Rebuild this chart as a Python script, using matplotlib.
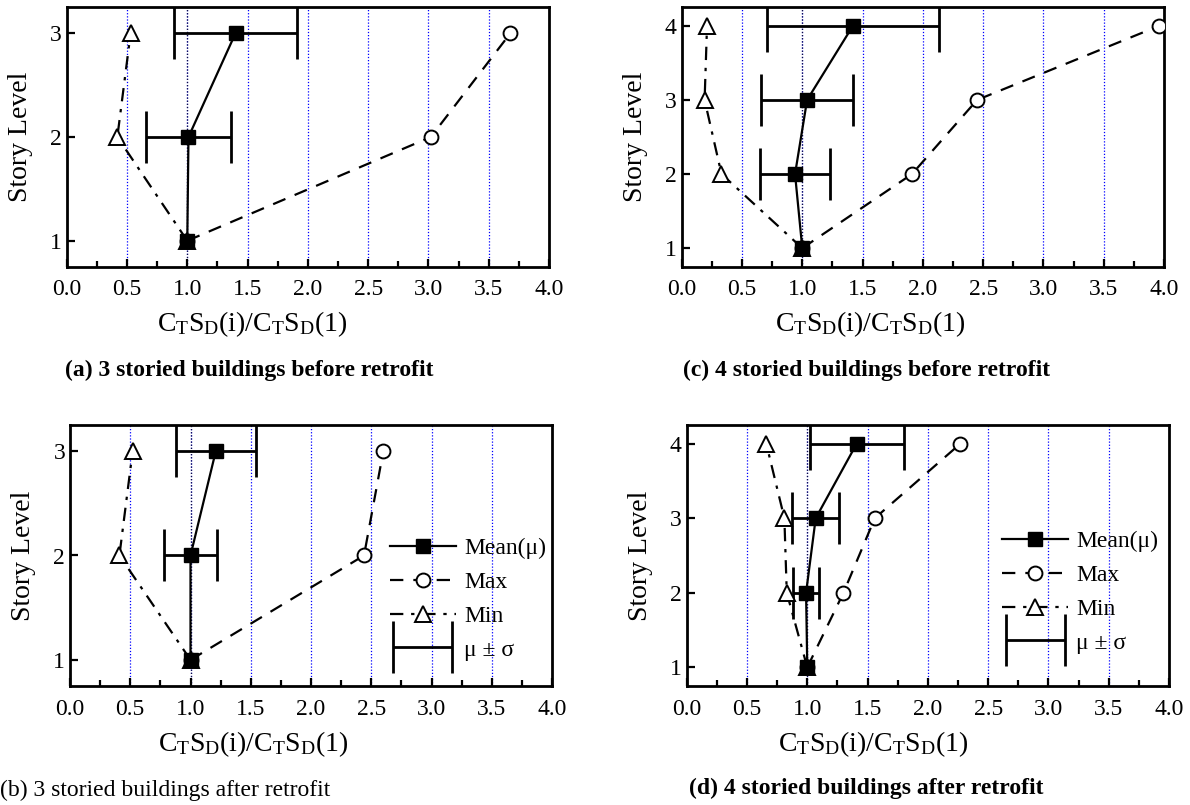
import matplotlib
matplotlib.use("Agg")
import matplotlib.pyplot as plt
import numpy as np
from matplotlib.ticker import MultipleLocator, FormatStrFormatter
from matplotlib.legend_handler import HandlerErrorbar

plt.rcParams['font.family'] = ['Liberation Serif', 'DejaVu Serif']
plt.rcParams['mathtext.fontset'] = 'custom'
plt.rcParams['mathtext.rm'] = 'Liberation Serif'
plt.rcParams['mathtext.it'] = 'Liberation Serif:italic'

# ---------------- data ----------------
levels3 = [1, 2, 3]
levels4 = [1, 2, 3, 4]

# (a) 3 storied before retrofit
a_mean = [1.0, 1.01, 1.40]
a_sigma = [0.0, 0.35, 0.51]
a_max = [1.0, 3.02, 3.68]
a_min = [1.0, 0.42, 0.53]

# (c) 4 storied before retrofit
c_mean = [1.0, 0.94, 1.04, 1.42]
c_sigma = [0.0, 0.29, 0.38, 0.71]
c_max = [1.0, 1.91, 2.45, 3.96]
c_min = [1.0, 0.33, 0.19, 0.21]

# (b) 3 storied after retrofit
b_mean = [1.0, 1.0, 1.21]
b_sigma = [0.0, 0.22, 0.33]
b_max = [1.0, 2.44, 2.60]
b_min = [1.0, 0.41, 0.52]

# (d) 4 storied after retrofit
d_mean = [1.0, 0.99, 1.07, 1.41]
d_sigma = [0.0, 0.11, 0.195, 0.39]
d_max = [1.0, 1.30, 1.56, 2.27]
d_min = [1.0, 0.83, 0.81, 0.66]

grid_x = [0.5, 1.0, 1.5, 2.0, 2.5, 3.0, 3.5]
xlabel = r'C$_\mathrm{T}$S$_\mathrm{D}$(i)/C$_\mathrm{T}$S$_\mathrm{D}$(1)'
titles = ['(a) 3 storied buildings before retrofit',
          '(c) 4 storied buildings before retrofit',
          '(b) 3 storied buildings after retrofit',
          '(d) 4 storied buildings after retrofit']

W, H = 1190, 805
fig = plt.figure(figsize=(W / 100, H / 100), dpi=100)

def px_axes(l, r, t, b):
    return fig.add_axes([l / W, 1 - b / H, (r - l) / W, (b - t) / H])

panels = [
    dict(box=(66.7, 549, 7.3, 266.7), lv=levels3, mean=a_mean, sig=a_sigma, mx=a_max, mn=a_min, legend=None, xlab=0.384),
    dict(box=(681.7, 1164, 7.3, 266.7), lv=levels4, mean=c_mean, sig=c_sigma, mx=c_max, mn=c_min, legend=None, xlab=0.39),
    dict(box=(70, 552, 425, 686), lv=levels3, mean=b_mean, sig=b_sigma, mx=b_max, mn=b_min, legend=(0.663, 0.568), xlab=0.38),
    dict(box=(686.7, 1169, 425, 686), lv=levels4, mean=d_mean, sig=d_sigma, mx=d_max, mn=d_min, legend=(0.654, 0.595), xlab=0.386),
]

lw = 1.6
for p in panels:
    ax = px_axes(*p['box'])
    lv = p['lv']
    nlev = len(lv)
    for gx in grid_x:
        ax.axvline(gx, color='blue', linestyle=(0, (1, 1.5)), linewidth=0.9, zorder=0)
    ax.axvline(1.0, color='#101040', linestyle=(0, (1, 1.5)), linewidth=0.9, zorder=0.5)

    hmean, = ax.plot(p['mean'], lv, '-', color='black', lw=lw, marker='s', ms=10,
                     mfc='black', mec='black', zorder=5, label='Mean(\u03bc)')
    hmax, = ax.plot(p['mx'], lv, color='black', lw=lw, linestyle=(0, (6, 4.5)), marker='o', ms=10,
                    mfc='white', mec='black', mew=1.4, zorder=4, label='Max')
    hmin, = ax.plot(p['mn'], lv, color='black', lw=lw, linestyle=(0, (6, 3.5, 1.5, 3.5)), marker='^', ms=11,
                    mfc='white', mec='black', mew=1.4, zorder=4, label='Min')
    herr = ax.errorbar(p['mean'][1:], lv[1:], xerr=p['sig'][1:], fmt='none', ecolor='black',
                       elinewidth=2.0, capsize=19, capthick=2.0, zorder=3, label='\u03bc \u00b1 \u03c3')

    ax.set_xlim(0, 4.0)
    ax.set_ylim(0.75, nlev + 0.25)
    ax.xaxis.set_major_locator(MultipleLocator(0.5))
    ax.xaxis.set_minor_locator(MultipleLocator(0.25))
    ax.xaxis.set_major_formatter(FormatStrFormatter('%.1f'))
    ax.set_yticks(lv)
    ax.tick_params(axis='both', which='major', direction='in', length=6, width=1.6, labelsize=17,
                   top=False, right=False)
    ax.tick_params(axis='x', which='minor', direction='in', length=4, width=1.6, top=False)
    ax.tick_params(axis='x', pad=9)
    for s in ax.spines.values():
        s.set_linewidth(2.0)
    ax.set_ylabel('Story Level', fontsize=20)
    ax.yaxis.set_label_coords(-0.07, 0.5)
    ax.set_xlabel(xlabel, fontsize=20)
    ax.xaxis.set_label_coords(p['xlab'], -0.165)

    if p['legend'] is not None:
        ax.legend(handles=[hmean, hmax, hmin, herr], loc='upper left', bbox_to_anchor=p['legend'],
                  frameon=False, fontsize=17, handlelength=2.8, handletextpad=0.35,
                  labelspacing=0.52, borderpad=0, borderaxespad=0,
                  handler_map={type(herr): HandlerErrorbar(xerr_size=1.25)})

fig.text(249 / W, 1 - 370 / H, titles[0], ha='center', va='center', fontsize=17, fontweight='bold')
fig.text(866.7 / W, 1 - 370 / H, titles[1], ha='center', va='center', fontsize=17, fontweight='bold')
fig.text(0 / W, 1 - 790 / H, titles[2], ha='left', va='center', fontsize=17)
fig.text(866.7 / W, 1 - 788 / H, titles[3], ha='center', va='center', fontsize=17, fontweight='bold')

fig.savefig('out.png', dpi=100)
